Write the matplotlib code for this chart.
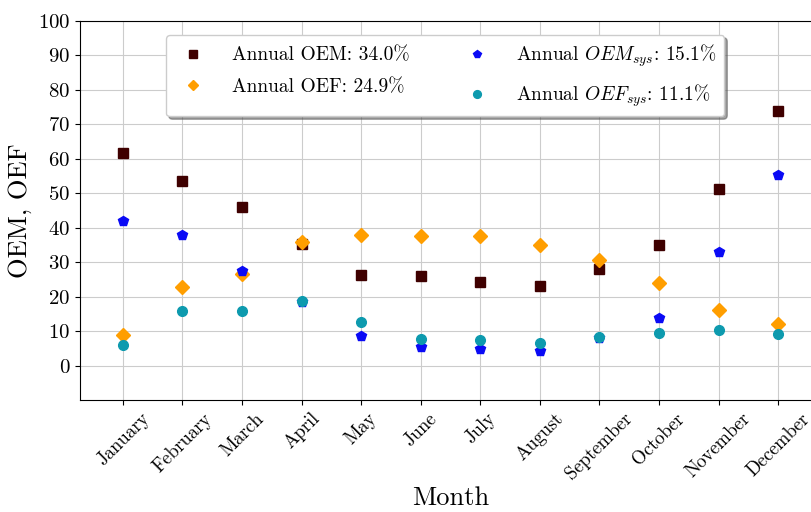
import matplotlib
matplotlib.use("Agg")
import matplotlib.pyplot as plt
import numpy as np

plt.rcParams['font.family'] = ['cmr10', 'DejaVu Serif']
plt.rcParams['mathtext.fontset'] = 'cm'
plt.rcParams['axes.formatter.use_mathtext'] = True

months = ["January", "February", "March", "April", "May", "June", "July",
          "August", "September", "October", "November", "December"]
oem = [61.6, 53.5, 46.1, 35.2, 26.3, 26.0, 24.3, 23.1, 28.0, 35.1, 51.2, 73.8]
oef = [8.9, 22.7, 26.7, 35.8, 38.0, 37.6, 37.7, 34.9, 30.6, 23.9, 16.2, 12.2]
oem_sys = [42.0, 37.9, 27.4, 18.4, 8.7, 5.3, 4.9, 4.3, 7.9, 13.8, 32.9, 55.4]
oef_sys = [6.0, 15.9, 15.8, 18.8, 12.5, 7.6, 7.5, 6.5, 8.4, 9.4, 10.3, 9.1]

labels = ["Annual OEM: 34.0%", "Annual OEF: 24.9%",
          r"Annual $OEM_{sys}$: 15.1%", r"Annual $OEF_{sys}$: 11.1%"]

fig = plt.figure(figsize=(8.12, 5.12), dpi=100)
ax = fig.add_axes([80/812, 1-400/512, 741/812, 379/512])

x = np.arange(len(months))
ax.plot(x, oem, 's', color='#3f0000', markersize=7, linestyle='none', label=labels[0], zorder=3)
ax.plot(x, oef, 'D', color='#ff9e00', markersize=7, linestyle='none', label=labels[1], zorder=3)
ax.plot(x, oem_sys, 'p', color='#0a0af5', markersize=7, linestyle='none', label=labels[2], zorder=3)
ax.plot(x, oef_sys, 'o', color='#0d9aae', markersize=7, linestyle='none', label=labels[3], zorder=3)

ax.set_xlim(-0.72, 11.72)
ax.set_ylim(-10, 100)
ax.set_yticks(np.arange(0, 101, 10))
ax.set_xticks(x)
ax.set_xticklabels(months, rotation=45, fontsize=13.5)
ax.tick_params(axis='y', labelsize=15)
ax.grid(True, color='#cccccc', linewidth=0.8)
ax.set_axisbelow(True)
ax.set_ylabel("OEM, OEF", fontsize=19)
ax.set_xlabel("Month", fontsize=19, labelpad=2)

leg = ax.legend(ncol=2, fontsize=14, loc='upper left',
                bbox_to_anchor=(166/812, 1-35/512), bbox_transform=fig.transFigure,
                borderaxespad=0, shadow=True, fancybox=True, framealpha=1,
                markerscale=0.8, handlelength=2.0,
                columnspacing=2.5, handletextpad=1.0, borderpad=0.38,
                labelspacing=0.7)

fig.savefig("out.png", dpi=100)
